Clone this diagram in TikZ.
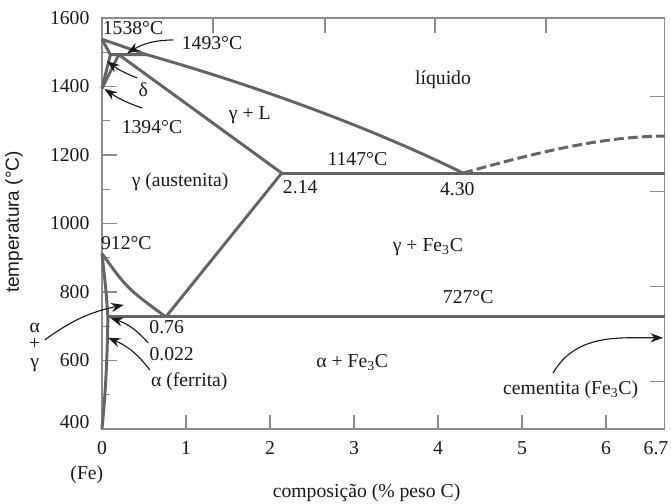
\documentclass[tikz,border=0pt]{standalone}
\usepackage{fontspec}
\setmainfont{Liberation Serif}
\setsansfont{Liberation Sans}
\usetikzlibrary{arrows.meta,calc}
\definecolor{ink}      {HTML}{1A1A1A}
\definecolor{phase}    {HTML}{656565}
\definecolor{frameGray}{HTML}{8C8C8C}

\begin{document}
\begin{tikzpicture}[
  x=2.1cm, y=0.0085625cm,
  every node/.style={font=\fontsize{14}{16}\selectfont, text=ink},
  bnd/.style={draw=phase, line width=2.1pt, line join=round},
  frm/.style={draw=frameGray, line width=0.9pt},
  tk/.style={draw=frameGray, line width=0.9pt},
  lbl/.style={inner sep=1pt},
  pointer/.style={draw=ink, line width=0.8pt, -{Stealth[length=9pt,width=6.5pt]}}
]
\useasboundingbox (-1.214,181) rectangle (6.774,1652.6);

% frame and ticks
\draw[frm] (0,400) rectangle (6.7,1600);
\foreach \t in {600,800,...,1400} \draw[tk] (0,\t) -- ++(0.375cm,0pt);
\foreach \t in {500,700,...,1500} \draw[tk] (0,\t) -- ++(0.2cm,0pt);
\foreach \t in {538,816,1093,1371} \draw[tk] (6.7,\t) -- ++(-0.375cm,0pt);
\foreach \c in {1.321,2.655,3.964,5.286} \draw[tk] (\c,1600) -- ++(0pt,-0.375cm);
\foreach \c in {1,...,6} \draw[tk] (\c,400) -- ++(0pt,0.35cm);

% axis labels
\foreach \t in {600,800,...,1600} \node[lbl, anchor=east] (yl\t) at (-0.13,\t) {\t};
\node[lbl, anchor=east] (yl400) at (-0.13,420) {400};
\foreach \c in {0,...,6} \node[lbl] (xl\c) at (\c,344) {\c};
\node[lbl, anchor=east] (xl67) at (6.762,344) {6.7};
\node[lbl] (fe) at (-0.18,266) {(Fe)};
\node[lbl] (xtitle) at (3.15,213) {composição (\% peso C)};
\node[lbl, rotate=90, font=\sffamily\fontsize{13.5}{16}\selectfont] (ytitle) at (-1.048,1004) {temperatura (°C)};

% phase boundaries
\coordinate (Fe1538) at (0,1538);
\coordinate (dMax)   at (0.1,1493);
\coordinate (gPer)   at (0.2,1493);
\coordinate (lPer)   at (0.53,1493);
\coordinate (Fe1394) at (0,1394);
\coordinate (gMax)   at (2.14,1147);
\coordinate (eut)    at (4.30,1147);
\coordinate (eutR)   at (6.7,1147);
\coordinate (cmEnd)  at (6.7,1255);
\coordinate (Fe912)  at (0,912);
\coordinate (eoid)   at (0.76,727);
\coordinate (aMax)   at (0.07,727);
\coordinate (eoidR)  at (6.7,727);
\coordinate (Fe400)  at (0,400);

\draw[bnd] (Fe1538) -- (lPer) .. controls (1.8,1405) and (3.2,1280) .. (eut);
\draw[bnd] (Fe1538) -- (dMax) -- (lPer);
\draw[bnd] (Fe1394) -- (dMax);
\draw[bnd] (Fe1394) -- (gPer) -- (gMax);
\draw[bnd] (gMax) -- (eutR);
\draw[bnd, dash pattern=on 7pt off 3pt] (eut) .. controls (5.2,1210) and (6.0,1255) .. (cmEnd);
\draw[bnd] (Fe912) .. controls (0.3,810) .. (eoid) -- (gMax);
\draw[bnd] (Fe912) .. controls (0.05,800) .. (aMax) .. controls (0.06,550) and (0.02,450) .. (Fe400);
\draw[bnd] (aMax) -- (eoidR);

% region and point labels
\node[lbl] (l1538)  at (0.37,1571) {1538°C};
\node[lbl] (l1493)  at (1.31,1527) {1493°C};
\node[lbl] (ldelta) at (0.49,1390) {δ};
\node[lbl] (l1394)  at (0.595,1282) {1394°C};
\node[lbl] (liq)    at (4.06,1419) {líquido};
\node[lbl] (gL)     at (1.76,1317) {γ + L};
\node[lbl] (aust)   at (0.93,1121) {γ (austenita)};
\node[lbl] (l1147)  at (3.04,1188) {1147°C};
\node[lbl] (l214)   at (2.36,1107) {2.14};
\node[lbl] (l430)   at (4.23,1101) {4.30};
\node[lbl] (l912)   at (0.29,943)  {912°C};
\node[lbl] (gFe)    at (3.88,931)  {γ + Fe\textsubscript{3}C};
\node[lbl] (l727)   at (4.36,785)  {727°C};
\node[lbl] (l076)   at (0.77,698)  {0.76};
\node[lbl] (l0022)  at (0.83,619)  {0.022};
\node[lbl] (ferr)   at (1.04,537)  {α (ferrita)};
\node[lbl] (aFe)    at (2.98,593)  {α + Fe\textsubscript{3}C};
\node[lbl] (cem)    at (5.58,514)  {cementita (Fe\textsubscript{3}C)};
\node[lbl, align=center, font=\fontsize{14}{12.5}\selectfont] (ag) at (-0.80,639) {α\\+\\γ};

% pointers
\coordinate (t1493) at (0.85,1536);  \coordinate (h1493) at (0.30,1497);
\coordinate (tdelta) at (0.42,1425); \coordinate (hdelta) at (0.06,1474);
\coordinate (t1394) at (0.48,1337);  \coordinate (h1394) at (0.03,1393);
\coordinate (tag)   at (-0.68,660);  \coordinate (hag)   at (0.26,762);
\coordinate (t0022) at (0.55,651);   \coordinate (h0022) at (0.10,724);
\coordinate (tferr) at (0.57,572);   \coordinate (hferr) at (0.07,666);
\coordinate (tcem)  at (5.37,563);   \coordinate (hcem)  at (6.68,666);
\draw[pointer] (t1493) to[bend right=15] (h1493);
\draw[pointer] (tdelta) to[bend left=8] (hdelta);
\draw[pointer] (t1394) to[bend left=8] (h1394);
\draw[pointer] (tag) to[bend left=12] (hag);
\draw[pointer] (t0022) to[bend right=15] (h0022);
\draw[pointer] (tferr) to[bend right=15] (hferr);
\draw[pointer] (tcem) to[out=60,in=180] (hcem);
\end{tikzpicture}
\end{document}
